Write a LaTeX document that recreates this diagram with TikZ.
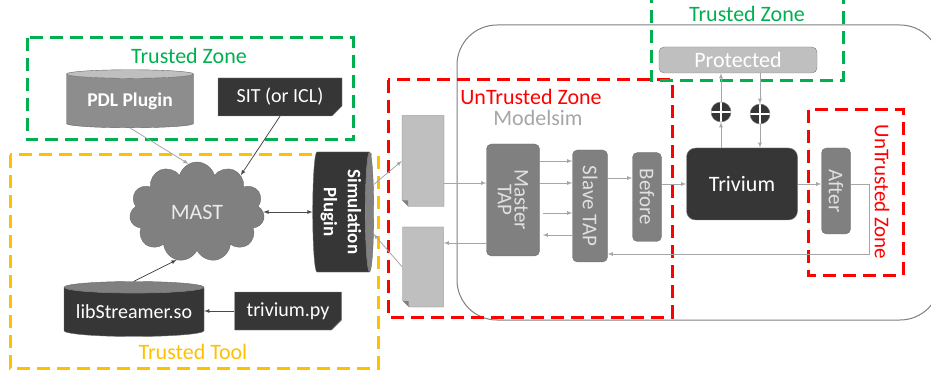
\documentclass[tikz,border=0pt]{standalone}
\usepackage{fontspec}
\setmainfont{Carlito}
\usetikzlibrary{shapes.geometric,shapes.symbols,shapes.misc}

\definecolor{zgreen}{HTML}{00B050}
\definecolor{zred}{HTML}{FF0000}
\definecolor{zorange}{HTML}{FFC000}
\definecolor{dk}{HTML}{363636}
\definecolor{md}{HTML}{808080}
\definecolor{lt}{HTML}{BFBFBF}
\definecolor{ln}{HTML}{A6A6A6}

\newcommand{\fsz}[1]{\fontsize{#1}{#1}\selectfont}

\tikzset{
  zone/.style={line width=3pt, dash pattern=on 13pt off 7pt},
  zlabel/.style={font=\fsz{22}, inner sep=0pt},
  blk/.style={rectangle, rounded corners=5pt, fill=md, draw=md!85!black, text=white!88!black, inner sep=1pt, font=\fsz{21}},
  cyl/.style={cylinder, shape border rotate=90, cylinder uses custom fill, draw=md!80!black, inner sep=0pt},
  dkdoc/.style={chamfered rectangle, chamfered rectangle corners=south east,
    chamfered rectangle xsep=5pt, chamfered rectangle ysep=5pt, fill=dk, draw=dk!60, text=white, font=\fsz{20},
    path picture={\fill[dk!45] ([xshift=-5pt]path picture bounding box.south east) -- ([yshift=5pt]path picture bounding box.south east) -- ([xshift=-5pt,yshift=5pt]path picture bounding box.south east) -- cycle;}},
  ltdoc/.style={chamfered rectangle, chamfered rectangle corners=south west,
    chamfered rectangle xsep=6pt, chamfered rectangle ysep=6pt, fill=lt, draw=md,
    path picture={\fill[md] ([xshift=6pt]path picture bounding box.south west) -- ([yshift=6pt]path picture bounding box.south west) -- ([xshift=6pt,yshift=6pt]path picture bounding box.south west) -- cycle;}},
  xor/.style={circle, fill=dk, draw=md, minimum size=20pt, inner sep=0pt,
    path picture={\draw[white, line width=1.2pt] (path picture bounding box.north) -- (path picture bounding box.south) (path picture bounding box.west) -- (path picture bounding box.east);}},
  arr/.style={->, draw=ln, line width=0.8pt},
  arrd/.style={->, draw=dk!90, line width=0.8pt},
}

\begin{document}
\begin{tikzpicture}[x=1pt,y=-1pt,>=latex]
\useasboundingbox (0,0) rectangle (931,371);

% Modelsim frame
\draw[md, line width=1pt, rounded corners=40pt] (457,25) rectangle (940,320);

% zones
\draw[zone, zgreen] (27,38) rectangle (353,140);
\draw[zone, zorange] (10,155) rectangle (378,368);
\draw[zone, zred] (388,80) rectangle (672,317);
\draw[zone, zgreen] (651,-10) rectangle (843,81);
\draw[zone, zred] (808,110) rectangle (903,275);

\node[zlabel, text=zgreen] (tzleft) at (189,56) {Trusted Zone};
\node[zlabel, text=zgreen] (tztop) at (747,14) {Trusted Zone};
\node[zlabel, text=zorange] (ttool) at (193,352) {Trusted Tool};
\node[zlabel, text=zred, anchor=base] (uzmid) at (531,105) {UnTrusted Zone};
\node[zlabel, text=ln, anchor=base] (msim) at (538,126) {Modelsim};
\node[text=zred, rotate=-90, font=\fsz{21}] (uzright) at (882,192) {UnTrusted Zone};

% left part
\node[cyl, aspect=0.1, cylinder body fill=md!90!white, cylinder end fill=lt,
  minimum width=127pt, minimum height=58pt, text=white, font=\fsz{19.5}\bfseries] (pdl) at (130,101) {PDL Plugin};
\node[dkdoc, minimum width=124pt, minimum height=38pt] (sit) at (280,97) {SIT (or ICL)};
\node[cloud, cloud puffs=11, aspect=1.4, fill=md, draw=md!85!black, text=white!92!black, font=\fsz{22},
  minimum width=135pt, minimum height=100pt] (mast) at (197,212) {MAST};
\node[cyl, rotate=-90, aspect=0.1, cylinder body fill=dk, cylinder end fill=md,
  minimum width=120pt, minimum height=61pt, text=white, align=center, font=\fontsize{19}{24}\selectfont\bfseries]
  (sim) at (341,212) {Simulation\\Plugin};
\node[cyl, aspect=0.1, cylinder body fill=dk, cylinder end fill=md,
  minimum width=140pt, minimum height=55pt, text=white, font=\fsz{20}] (lib) at (134,312) {libStreamer.so};
\node[dkdoc, minimum width=107pt, minimum height=38pt] (trv) at (288,311) {trivium.py};

% documents
\node[ltdoc, minimum width=42pt, minimum height=91pt] (doca) at (423,161) {};
\node[ltdoc, minimum width=41pt, minimum height=80pt] (docb) at (423,267) {};

% modelsim blocks
\node[blk, minimum width=53pt, minimum height=112pt] (master) at (513,200) {\rotatebox{-90}{\shortstack{Master\\TAP}}};
\node[blk, minimum width=35pt, minimum height=112pt] (slave) at (590,206) {\rotatebox{-90}{Slave TAP}};
\node[blk, minimum width=29pt, minimum height=89pt] (before) at (647,197) {\rotatebox{-90}{Before}};
\node[blk, rounded corners=9pt, fill=dk, draw=md, text=white, font=\fsz{22}, minimum width=111pt, minimum height=72pt] (trivium) at (742,184) {Trivium};
\node[blk, minimum width=29pt, minimum height=86pt] (after) at (836,191) {\rotatebox{-90}{After}};
\node[blk, fill=lt, draw=md, text=white, font=\fsz{22}, minimum width=158pt, minimum height=26pt] (prot) at (738,60) {Protected};
\node[xor] (xa) at (721,112) {};
\node[xor] (xb) at (760,114) {};

% connectors, left
\draw[arr] (pdl.south) -- (mast.100);
\draw[arrd] (sit.south) -- (mast.40);
\draw[arrd, <->] (mast.east) -- (mast.east -| sim.south);
\draw[arrd] (lib.north) -- (mast.-113);
\draw[arrd] (trv.west) -- (trv.west -| lib.east);
\draw[arr] (sim.130) -- (doca.west);
\draw[arr] (docb.west) -- (sim.56);

% connectors, modelsim
\draw[arr] ([yshift=-22pt]doca.east) -- ([yshift=-22pt]doca.east -| master.west);
\draw[arr] ([yshift=39pt]master.east) -- ([yshift=39pt]master.east -| slave.west);
\draw[arr] ([yshift=17pt]master.east) -- ([yshift=17pt]master.east -| slave.west);
\draw[arr] ([xshift=3pt,yshift=-13pt]master.east) -- ([yshift=-13pt]master.east -| slave.west);
\draw[arr] ([yshift=-35pt]master.east -| slave.west) -- ([xshift=3pt,yshift=-35pt]master.east);
\draw[arr] ([yshift=-43pt]master.west) -- ([yshift=-43pt]master.west -| docb.east);
\draw[arr] ([yshift=28pt]slave.east) -- ([yshift=28pt]slave.east -| before.west);
\draw[arr] (trivium.west -| before.east) -- (trivium.west);
\draw[arr] (trivium.east) -- (trivium.east -| after.west);
\draw[arr] (trivium.east -| after.east) -- ++(19,0) |- ([yshift=-48pt]slave.east);
\draw[arr] (xa |- trivium.north) -- (xa);
\draw[arr] (xa) -- (xa |- prot.south);
\draw[arr] (xb |- prot.south) -- (xb);
\draw[arr] (xb) -- (xb |- trivium.north);
\end{tikzpicture}
\end{document}
